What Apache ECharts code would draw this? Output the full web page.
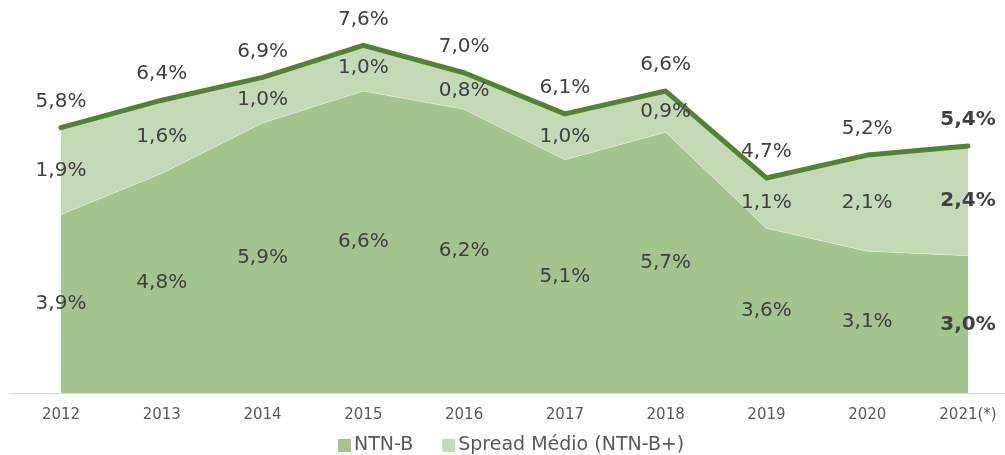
<!DOCTYPE html>
<html>
<head>
<meta charset="utf-8">
<script src="https://cdn.jsdelivr.net/npm/echarts@6/dist/echarts.min.js"></script>
<style>
  html, body { margin: 0; padding: 0; background: #fff; }
  #chart { width: 1005px; height: 455px; }
</style>
</head>
<body>
<div id="chart"></div>
<script>
// dados do gráfico
var years = ['2012', '2013', '2014', '2015', '2016', '2017', '2018', '2019', '2020', '2021(*)']
var ntnb = [3.9, 4.8, 5.9, 6.6, 6.2, 5.1, 5.7, 3.6, 3.1, 3.0]
var spread = [1.9, 1.6, 1.0, 1.0, 0.8, 1.0, 0.9, 1.1, 2.1, 2.4]
var total = [5.8, 6.4, 6.9, 7.6, 7.0, 6.1, 6.6, 4.7, 5.2, 5.4]

var last = years.length - 1
var fmt = function (v) { return v.toFixed(1).replace('.', ',') + '%' }
// último ano em negrito
var boldLast = function (arr) {
  return arr.map(function (v, i) {
    return i === last ? { value: v, label: { fontWeight: 'bold' } } : v
  })
}

var labelFont = {
  fontFamily: 'DejaVu Sans',
  fontSize: 20,
  color: '#404040',
  textBorderWidth: 0
}

var chart = echarts.init(document.getElementById('chart'))
chart.setOption({
  backgroundColor: '#ffffff',
  animation: false,
  // grid 0: dados; grid 1: só a linha do eixo, mais larga
  grid: [{
    left: 61,
    right: 37,
    top: 27,
    bottom: 62
  }, {
    left: 10,
    right: 0,
    top: 27,
    bottom: 62
  }],
  legend: {
    bottom: -5,
    left: 333,
    icon: 'rect',
    itemWidth: 13,
    itemHeight: 13,
    itemGap: 29,
    data: ['NTN-B', 'Spread Médio (NTN-B+)'],
    textStyle: {
      fontFamily: 'DejaVu Sans',
      fontSize: 19,
      color: '#595959',
      padding: [0, 0, 0, -2]
    }
  },
  xAxis: [{
    type: 'category',
    gridIndex: 0,
    boundaryGap: false,
    data: years,
    axisLine: { show: false },
    axisTick: { show: false },
    axisLabel: {
      margin: 15,
      fontFamily: 'DejaVu Sans',
      fontSize: 15,
      color: '#595959'
    }
  }, {
    type: 'category',
    gridIndex: 1,
    data: years,
    axisLine: { lineStyle: { color: '#d9d9d9', width: 1 } },
    axisTick: { show: false },
    axisLabel: { show: false },
    z: 1
  }],
  yAxis: [{
    type: 'value',
    gridIndex: 0,
    min: 0,
    max: 8,
    show: false,
    splitLine: { show: false }
  }, {
    type: 'value',
    gridIndex: 1,
    min: 0,
    max: 8,
    show: false,
    splitLine: { show: false }
  }],
  series: [{
    name: 'NTN-B',
    type: 'line',
    stack: 'taxa',
    symbol: 'none',
    color: '#a2c48f',
    lineStyle: { width: 1, color: 'rgba(255,255,255,0.35)' },
    areaStyle: { color: '#a2c48f', opacity: 1 },
    data: ntnb
  }, {
    name: 'Spread Médio (NTN-B+)',
    type: 'line',
    stack: 'taxa',
    symbol: 'circle',
    symbolSize: 0,
    showSymbol: true,
    color: '#c4d9b5',
    lineStyle: { width: 5, color: '#548235', cap: 'round', join: 'round' },
    areaStyle: { color: '#c4d9b5', opacity: 1 },
    label: Object.assign({
      show: true,
      position: 'top',
      distance: 16,
      formatter: function (p) { return fmt(total[p.dataIndex]) }
    }, labelFont),
    data: boldLast(spread),
    z: 3
  }, {
    // rótulos NTN-B no meio da área
    name: 'rotulo-ntnb',
    type: 'scatter',
    symbolSize: 0,
    silent: true,
    itemStyle: { opacity: 1 },
    label: Object.assign({
      show: true,
      position: 'inside',
      formatter: function (p) { return fmt(ntnb[p.dataIndex]) }
    }, labelFont),
    data: boldLast(ntnb.map(function (v) { return v / 2 })),
    z: 4
  }, {
    // rótulos spread no meio da faixa
    name: 'rotulo-spread',
    type: 'scatter',
    symbolSize: 0,
    silent: true,
    itemStyle: { opacity: 1 },
    label: Object.assign({
      show: true,
      position: 'inside',
      formatter: function (p) { return fmt(spread[p.dataIndex]) }
    }, labelFont),
    data: boldLast(ntnb.map(function (v, i) { return v + spread[i] / 2 })),
    z: 4
  }]
})
</script>
</body>
</html>
